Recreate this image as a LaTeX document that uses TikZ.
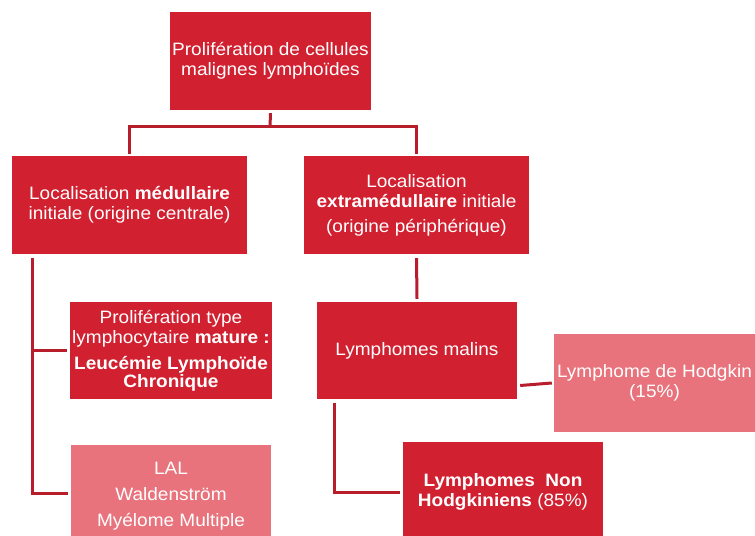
\documentclass[tikz,border=0pt]{standalone}
\usepackage{fontspec}
\setmainfont{Liberation Sans}[FakeStretch=1.06]
\definecolor{darkred}{HTML}{D12030}
\definecolor{lightred}{HTML}{E8737C}
\definecolor{linered}{HTML}{B81D2C}
\begin{document}
\begin{tikzpicture}[x=1bp,y=-1bp,
  box/.style={rectangle, fill=darkred, text=white, align=center, inner sep=2bp,
    font=\fontsize{18}{20}\selectfont},
  lbox/.style={box, fill=lightred},
  conn/.style={draw=linered, line width=3bp}]
\useasboundingbox (0,0) rectangle (755,536);
\node[box, minimum width=199bp, minimum height=98bp] (top) at (270.5,61)
  {Prolifération de cellules\\malignes lymphoïdes};
\node[box, minimum width=235bp, minimum height=98bp] (med) at (129.5,205)
  {Localisation \textbf{médullaire}\\initiale (origine centrale)};
\node[box, minimum width=225bp, minimum height=98bp] (extra) at (416.5,205)
  {Localisation\\\textbf{extramédullaire} initiale\\[5bp](origine périphérique)};
\node[box, minimum width=200bp, minimum height=97bp] (llc) at (171,350.5)
  {Prolifération type\\lymphocytaire \textbf{mature :}\\[6bp]\textbf{Leucémie Lymphoïde}\\[-2bp]\textbf{Chronique}};
\node[lbox, minimum width=200bp, minimum height=91bp] (lal) at (171,490.5) {};
\node[text=white, align=center, font=\fontsize{18}{20}\selectfont] (laltext) at (171,496.5)
  {LAL\\[6bp]Waldenström\\[6bp]Myélome Multiple};
\node[box, minimum width=200bp, minimum height=97bp] (lm) at (417,350.5)
  {Lymphomes malins};
\node[lbox, minimum width=201bp, minimum height=98bp] (hodg) at (654.5,383)
  {Lymphome de Hodgkin\\(15\%)};
\node[box, minimum width=200bp, minimum height=94bp] (lnh) at (503,489) {};
\node[text=white, align=center, font=\fontsize{18}{20}\selectfont] (lnhtext) at (503,492)
  {\textbf{Lymphomes\ \ Non}\\\textbf{Hodgkiniens} (85\%)};
\coordinate (j1) at (270,127);
\draw[conn] ([yshift=-3bp]top.south) -- (j1);
\draw[conn] ([yshift=2bp]med.north) |- (j1) -| ([yshift=2bp]extra.north);
\draw[conn] ([shift={(21bp,-4bp)}]med.south west) |- ([xshift=-3bp]llc.west);
\draw[conn] ([shift={(21bp,-4bp)}]med.south west) |- ([shift={(-3bp,-2.5bp)}]lal.west);
\draw[conn] ([yshift=-4bp]extra.south) -- ([yshift=3bp]lm.north);
\draw[conn] ([shift={(3bp,-35bp)}]lm.east) -- ([xshift=-2bp]hodg.west);
\draw[conn] ([shift={(18bp,-4bp)}]lm.south west) |- ([shift={(-3bp,-3bp)}]lnh.west);
\end{tikzpicture}
\end{document}
